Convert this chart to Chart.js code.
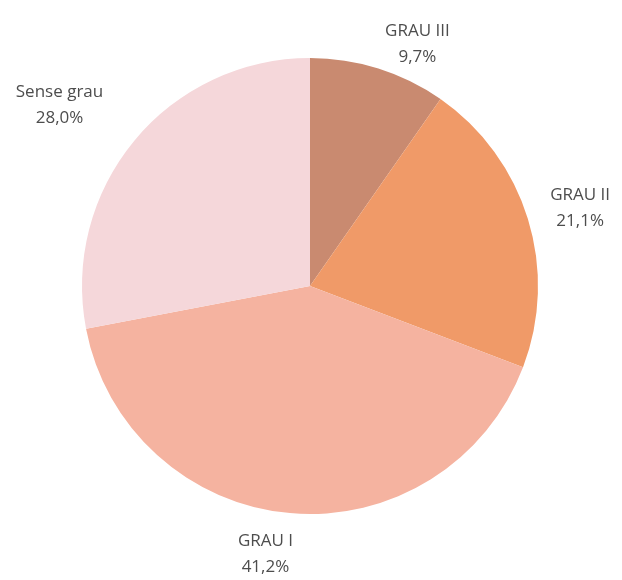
<!DOCTYPE html>
<html>
<head>
<meta charset="utf-8">
<script src="https://cdn.jsdelivr.net/npm/chart.js@4/dist/chart.umd.min.js"></script>
<style>
  html, body { margin: 0; padding: 0; background: #fff; }
  #wrap { width: 622px; height: 580px; }
</style>
</head>
<body>
<div id="wrap"><canvas id="c"></canvas></div>
<script>
// data, clockwise from 12 o'clock
var categories = ['GRAU III', 'GRAU II', 'GRAU I', 'Sense grau'];
var percents = [9.7, 21.1, 41.2, 28.0];
var colors = ['#c98a70', '#f09a68', '#f5b3a0', '#f5d7da'];

// label nudges (px) from the radial anchor point
var nudges = [[27, 14], [14, 1], [-21, 1], [-44, -10]];

function fmt(v) { return v.toFixed(1).replace('.', ',') + '%'; }

var outsideLabels = {
  id: 'outsideLabels',
  afterDatasetsDraw: function(chart) {
    var ctx = chart.ctx;
    var meta = chart.getDatasetMeta(0);
    ctx.save();
    ctx.font = '17px "Open Sans", sans-serif';
    ctx.fillStyle = '#4d4d4d';
    ctx.textAlign = 'center';
    ctx.textBaseline = 'middle';
    meta.data.forEach(function(arc, i) {
      var mid = (arc.startAngle + arc.endAngle) / 2;
      var d = arc.outerRadius + 40;
      var x = arc.x + Math.cos(mid) * d + nudges[i][0];
      var y = arc.y + Math.sin(mid) * d + nudges[i][1];
      ctx.fillText(categories[i], x, y - 13);
      ctx.fillText(fmt(percents[i]), x, y + 13);
    });
    ctx.restore();
  }
};

new Chart(document.getElementById('c').getContext('2d'), {
  type: 'pie',
  data: {
    labels: categories,
    datasets: [{
      data: percents,
      backgroundColor: colors,
      borderWidth: 0
    }]
  },
  options: {
    responsive: true,
    maintainAspectRatio: false,
    animation: false,
    layout: { padding: { left: 82, right: 84, top: 57, bottom: 65 } },
    plugins: {
      legend: { display: false },
      tooltip: { enabled: false }
    }
  },
  plugins: [outsideLabels]
});
</script>
</body>
</html>
